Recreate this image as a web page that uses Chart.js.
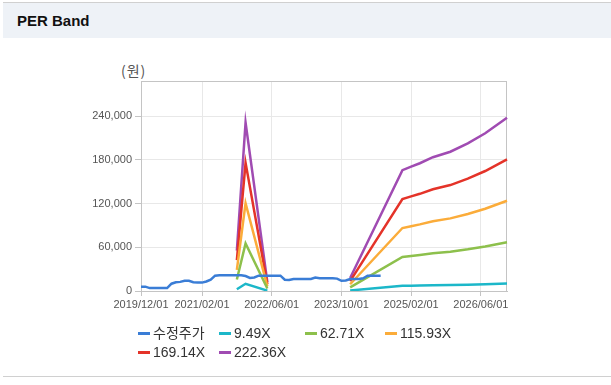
<!DOCTYPE html>
<html>
<head>
<meta charset="utf-8">
<title>PER Band</title>
<script src="https://cdn.jsdelivr.net/npm/chart.js@4.4.1/dist/chart.umd.min.js"></script>
<style>
  html, body { margin: 0; padding: 0; background: #fff; }
  body { width: 611px; height: 385px; position: relative; overflow: hidden;
         font-family: "Liberation Sans", "Noto Sans CJK KR", sans-serif; }
  #card { position: absolute; left: 3px; top: 2px; width: 608px; height: 373px;
          border-top: 1px solid #d0d0d0; border-bottom: 1px solid #d0d0d0; }
  #head { height: 35px; background: #eef2f7; }
  #head span { position: absolute; left: 14px; top: 9px; font-weight: bold; font-size: 15px; color: #111; }
  #unit { position: absolute; left: 121px; top: 61px; font-size: 14px; color: #555;
          font-family: "Noto Sans CJK KR", sans-serif; line-height: 18px; letter-spacing: 1px; }
  #chart { position: absolute; left: 0; top: 0; }
  .lg { position: absolute; font-size: 14px; color: #333; line-height: 18px; white-space: nowrap; }
  .lg i { display: inline-block; width: 12px; height: 3px; margin-right: 3px; vertical-align: middle; position: relative; top: -1px; }
</style>
</head>
<body>
<div id="card"><div id="head"><span>PER Band</span></div></div>
<div id="unit">(원)</div>
<canvas id="chart" width="611" height="385"></canvas>
<div id="legend"></div>

<script>
// x axis: monthly points 2019/12 .. 2026/12
const startYear = 2019, startMonth = 12, monthCount = 85;
const tickIdx = [0, 14, 30, 46, 62, 78];
const yTicks = [0, 60000, 120000, 180000, 240000];

// 수정주가 (adjusted price), monthly from 2019/12
const priceData = [
    6000, 6000, 4000, 4000, 4000, 4000, 4000, 10000, 12000, 12500,
    14000, 14000, 12000, 11500, 11500, 13000, 15500, 21000, 21500, 21500,
    21500, 21500, 21500, 21500, 20500, 18000, 18500, 21000, 21000, 21000,
    21000, 21000, 21000, 15500, 15000, 16500, 16500, 16500, 16500, 16500,
    18500, 17500, 17500, 17500, 17500, 17000, 14000, 14500, 16500, 16500,
    16500, 17500, 21000, 21000, 21000, 21000
];

// band points: month index of each reading
const bandIdx1 = [22, 24, 29];
const bandIdx2 = [48, 60, 62, 64, 67, 71, 75, 79, 84];

const band949A = [2370, 9860, 520];
const band949B = [760, 7070, 7280, 7480, 7830, 8150, 8650, 9230, 10140];
const band6271A = [15680, 65160, 3450];
const band6271B = [5020, 46720, 48100, 49420, 51740, 53870, 57130, 61020, 66970];
const band11593A = [28980, 120450, 6380];
const band11593B = [9270, 86370, 88920, 91350, 95640, 99580, 105610, 112800, 123810];
const band16914A = [42290, 175740, 9300];
const band16914B = [13530, 126010, 129730, 133280, 139540, 145290, 154090, 164570, 180640];
const band22236A = [55590, 231030, 12230];
const band22236B = [17790, 165660, 170550, 175220, 183450, 191010, 202570, 216360, 237480];

const seriesNames = ['수정주가', '9.49X', '62.71X', '115.93X', '169.14X', '222.36X'];
const seriesColors = ['#3a7dd6', '#1cb7c9', '#8dc04c', '#fbac3a', '#e43329', '#a04bb2'];

// month labels
const months = [];
for (let k = 0; k < monthCount; k++) {
    const m = (startMonth - 1 + k) % 12 + 1;
    const y = startYear + Math.floor((startMonth - 1 + k) / 12);
    months.push(y + '/' + String(m).padStart(2, '0') + '/01');
}

function buildBand(a, b) {
    const pts = bandIdx1.map((m, k) => ({ x: months[m], y: a[k] }));
    pts.push({ x: months[38], y: null });
    return pts.concat(bandIdx2.map((m, k) => ({ x: months[m], y: b[k] })));
}

const allData = [
    priceData,
    buildBand(band949A, band949B),
    buildBand(band6271A, band6271B),
    buildBand(band11593A, band11593B),
    buildBand(band16914A, band16914B),
    buildBand(band22236A, band22236B)
];

// gray frame round the plot
const framePlugin = {
    id: 'frame',
    beforeDatasetsDraw(chart) {
        const a = chart.chartArea, c = chart.ctx;
        c.save();
        c.strokeStyle = '#c4c4c4';
        c.lineWidth = 1;
        c.strokeRect(a.left + 0.5, a.top + 0.5, a.right - a.left - 1, a.bottom - a.top);
        c.restore();
    }
};

const tickFont = { family: '"Liberation Sans", Arial, sans-serif', size: 11 };

new Chart(document.getElementById('chart'), {
    type: 'line',
    data: {
        labels: months,
        datasets: allData.map((d, k) => ({
            label: seriesNames[k],
            data: d,
            borderColor: seriesColors[k],
            backgroundColor: seriesColors[k],
            borderWidth: 2.5,
            pointRadius: 0,
            tension: 0,
            fill: false
        }))
    },
    options: {
        responsive: false,
        animation: false,
        devicePixelRatio: 1,
        layout: { padding: { left: 0, top: 81, right: 104, bottom: 0 } },
        plugins: { legend: { display: false }, tooltip: { enabled: false } },
        scales: {
            x: {
                afterFit(s) { s.height = 94; },
                afterBuildTicks(s) { s.ticks = tickIdx.map(v => ({ value: v })); },
                grid: { color: '#e8e8e8', tickColor: '#c4c4c4', tickLength: 5 },
                border: { color: '#c4c4c4' },
                ticks: { autoSkip: false, maxRotation: 0, padding: 2, color: '#555', font: tickFont }
            },
            y: {
                min: 0,
                max: 288000,
                afterFit(s) { s.width = 141; },
                afterBuildTicks(s) { s.ticks = yTicks.map(v => ({ value: v })); },
                grid: { color: '#e8e8e8', tickColor: '#c4c4c4', tickLength: 6 },
                border: { color: '#c4c4c4' },
                ticks: {
                    padding: 3, color: '#555', font: tickFont,
                    callback: v => v.toLocaleString('en-US')
                }
            }
        }
    },
    plugins: [framePlugin]
});

// legend laid out in fixed slots like the original
const legendPos = [[138, 324], [219, 324], [305, 324], [385, 324], [138, 343], [219, 343]];
const legend = document.getElementById('legend');
seriesNames.forEach((name, k) => {
    const el = document.createElement('div');
    el.className = 'lg';
    el.style.left = legendPos[k][0] + 'px';
    el.style.top = legendPos[k][1] + 'px';
    el.innerHTML = '<i style="background:' + seriesColors[k] + '"></i>' + name;
    legend.appendChild(el);
});
</script>
</body>
</html>
